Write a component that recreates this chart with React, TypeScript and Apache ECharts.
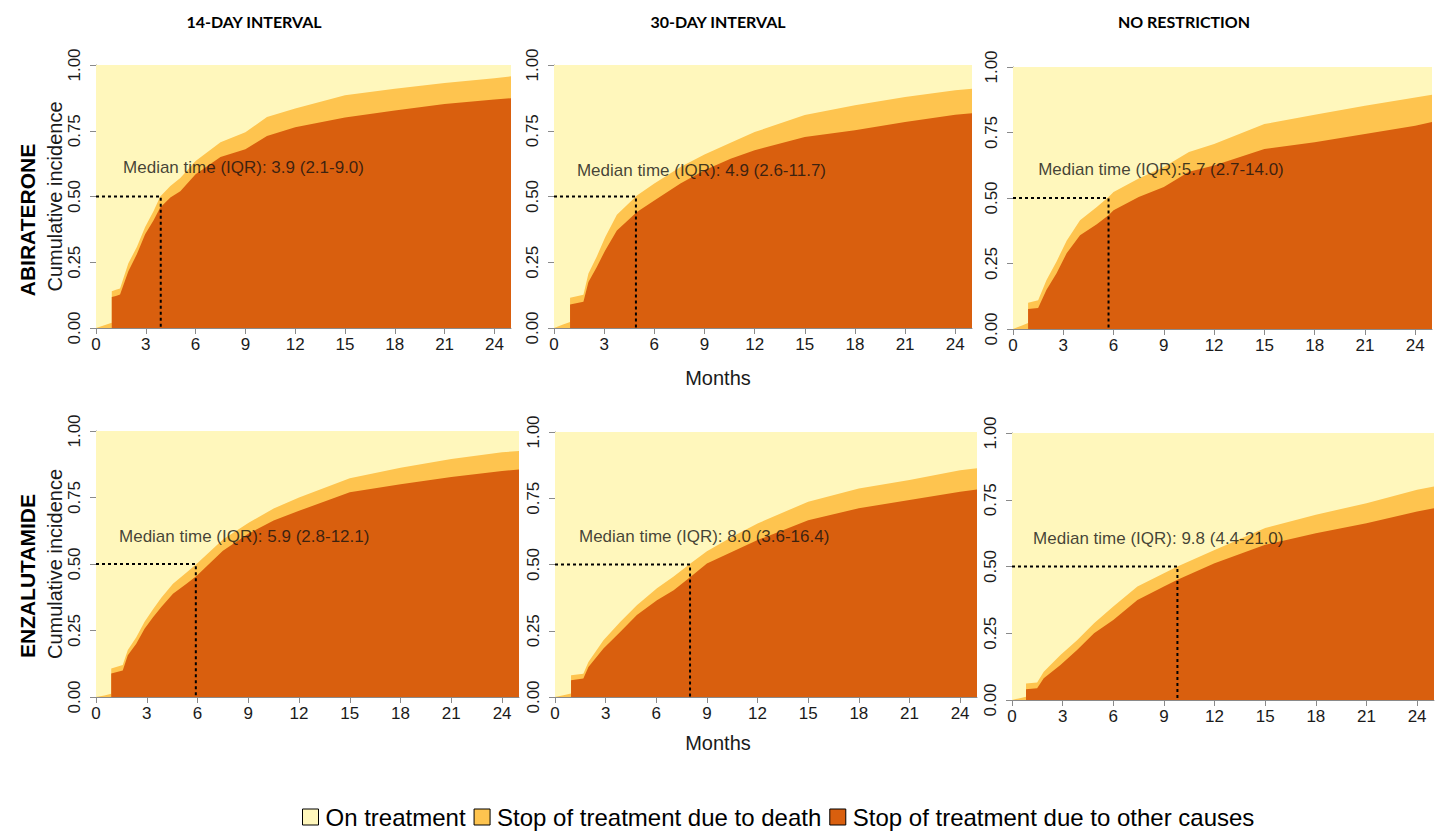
import React, { useEffect, useRef } from "react";
import * as echarts from "echarts";

// ---------- text ----------
const COLUMN_TITLES = ["14-DAY INTERVAL", "30-DAY INTERVAL", "NO RESTRICTION"];
const ROW_TITLES = ["ABIRATERONE", "ENZALUTAMIDE"];
const LEGEND_NAMES = [
  "On treatment",
  "Stop of treatment due to death",
  "Stop of treatment due to other causes",
];
const X_TICKS = [0, 3, 6, 9, 12, 15, 18, 21, 24];
const Y_TICKS = [0, 0.25, 0.5, 0.75, 1];
const MEDIANS = [3.9, 4.9, 5.7, 5.9, 8.0, 9.8];
const MEDIAN_LABELS = [
  "Median time (IQR): 3.9 (2.1-9.0)",
  "Median time (IQR): 4.9 (2.6-11.7)",
  "Median time (IQR):5.7 (2.7-14.0)",
  "Median time (IQR): 5.9 (2.8-12.1)",
  "Median time (IQR): 8.0 (3.6-16.4)",
  "Median time (IQR): 9.8 (4.4-21.0)",
];

// ---------- data (months, cumulative incidence) ----------
// Abiraterone, 14-day interval
const abi14Months = [0, 0.5, 0.95, 0.95, 1.2, 1.45, 1.95, 2.46, 2.96, 3.47, 3.87, 4.48, 5.08, 6, 7.5, 9, 10.3, 12, 15, 18, 21, 24, 25];
const abi14Other = [0, 0, 0, 0.118, 0.122, 0.127, 0.216, 0.28, 0.356, 0.41, 0.458, 0.496, 0.52, 0.585, 0.65, 0.68, 0.73, 0.763, 0.8, 0.827, 0.852, 0.869, 0.874];
const abi14Death = [0, 0.01, 0.02, 0.022, 0.023, 0.023, 0.03, 0.028, 0.028, 0.035, 0.042, 0.044, 0.05, 0.05, 0.056, 0.064, 0.072, 0.072, 0.085, 0.083, 0.08, 0.081, 0.083];
// Abiraterone, 30-day interval
const abi30Months = [0, 0.5, 0.96, 0.96, 1.76, 2.06, 2.56, 3.06, 3.76, 4.96, 6, 7.56, 9, 10.56, 12, 15, 18, 21, 24, 25];
const abi30Other = [0, 0, 0, 0.089, 0.1, 0.175, 0.232, 0.295, 0.371, 0.441, 0.485, 0.549, 0.6, 0.644, 0.676, 0.726, 0.752, 0.783, 0.811, 0.817];
const abi30Death = [0, 0.012, 0.023, 0.026, 0.026, 0.032, 0.04, 0.05, 0.06, 0.063, 0.064, 0.063, 0.06, 0.06, 0.069, 0.084, 0.095, 0.095, 0.093, 0.093];
// Abiraterone, no restriction
const abiNoMonths = [0, 0.5, 0.9, 0.9, 1.5, 2, 2.6, 3.2, 4, 5, 5.7, 6, 7.5, 9, 10.5, 12, 15, 18, 21, 24, 25];
const abiNoOther = [0, 0, 0, 0.076, 0.08, 0.15, 0.213, 0.289, 0.358, 0.4, 0.434, 0.453, 0.504, 0.542, 0.6, 0.624, 0.687, 0.713, 0.744, 0.776, 0.79];
const abiNoDeath = [0, 0.012, 0.023, 0.024, 0.03, 0.037, 0.045, 0.048, 0.057, 0.066, 0.07, 0.07, 0.07, 0.076, 0.076, 0.082, 0.095, 0.105, 0.108, 0.108, 0.104];
// Enzalutamide, 14-day interval
const enz14Months = [0, 0.5, 0.9, 0.9, 1.58, 1.88, 2.38, 2.87, 3.37, 3.86, 4.55, 5.35, 5.94, 7.5, 9, 10.5, 12, 15, 18, 21, 24, 25];
const enz14Other = [0, 0, 0, 0.088, 0.1, 0.157, 0.2, 0.257, 0.3, 0.338, 0.388, 0.426, 0.455, 0.55, 0.614, 0.664, 0.7, 0.77, 0.8, 0.827, 0.85, 0.855];
const enz14Death = [0, 0.006, 0.012, 0.019, 0.02, 0.02, 0.025, 0.026, 0.03, 0.035, 0.038, 0.042, 0.045, 0.042, 0.04, 0.045, 0.05, 0.052, 0.062, 0.068, 0.07, 0.07];
// Enzalutamide, 30-day interval
const enz30Months = [0, 0.5, 0.95, 0.95, 1.68, 1.98, 2.87, 3.86, 4.85, 6.04, 7.03, 8.02, 9, 10.5, 12, 15, 18, 21, 24, 25];
const enz30Other = [0, 0, 0, 0.063, 0.07, 0.113, 0.183, 0.245, 0.309, 0.365, 0.403, 0.453, 0.504, 0.548, 0.592, 0.667, 0.712, 0.743, 0.775, 0.783];
const enz30Death = [0, 0.007, 0.013, 0.019, 0.018, 0.019, 0.031, 0.038, 0.037, 0.045, 0.052, 0.051, 0.046, 0.057, 0.063, 0.07, 0.075, 0.076, 0.081, 0.08];
// Enzalutamide, no restriction
const enzNoMonths = [0, 0.4, 0.83, 0.83, 1.49, 1.88, 2.87, 3.87, 4.86, 6, 7.43, 9, 9.8, 12, 15, 18, 21, 24, 25];
const enzNoOther = [0, 0, 0, 0.04, 0.044, 0.081, 0.131, 0.188, 0.25, 0.3, 0.375, 0.425, 0.45, 0.512, 0.581, 0.625, 0.662, 0.706, 0.718];
const enzNoDeath = [0, 0.006, 0.012, 0.022, 0.022, 0.025, 0.038, 0.037, 0.037, 0.05, 0.05, 0.05, 0.05, 0.05, 0.063, 0.069, 0.075, 0.081, 0.082];

const PANELS = [
  { months: abi14Months, other: abi14Other, death: abi14Death },
  { months: abi30Months, other: abi30Other, death: abi30Death },
  { months: abiNoMonths, other: abiNoOther, death: abiNoDeath },
  { months: enz14Months, other: enz14Other, death: enz14Death },
  { months: enz30Months, other: enz30Other, death: enz30Death },
  { months: enzNoMonths, other: enzNoOther, death: enzNoDeath },
];

// ---------- layout & style ----------
const GRIDS = [
  { left: 96, top: 65, width: 415, height: 263 },
  { left: 554, top: 65, width: 418, height: 263 },
  { left: 1013, top: 67, width: 419, height: 262 },
  { left: 96, top: 431, width: 423, height: 266 },
  { left: 555, top: 432, width: 422, height: 265 },
  { left: 1012, top: 433, width: 422, height: 267 },
];
const LABEL_ANCHORS = [
  [1.63, 0.61],
  [1.37, 0.6],
  [1.5, 0.607],
  [1.36, 0.603],
  [1.42, 0.604],
  [1.25, 0.603],
];
const C_ON = "#FFF7BC";
const C_DEATH = "#FEC44F";
const C_OTHER = "#D95F0E";
const FONT = "'Liberation Sans', Arial, Helvetica, sans-serif";
const TITLE_FONT = "'Liberation Sans Narrow', 'Arial Narrow', Lato, sans-serif";
const AXIS_GRAY = "#8a8a8a";

function buildOption() {
  const grid: any[] = [];
  const xAxis: any[] = [];
  const yAxis: any[] = [];
  const series: any[] = [];

  PANELS.forEach((p, i) => {
    grid.push({ ...GRIDS[i], outerBoundsMode: "none", containLabel: false });
    xAxis.push({
      type: "value",
      gridIndex: i,
      min: 0,
      max: 25,
      interval: 3,
      axisLine: { show: true, lineStyle: { color: AXIS_GRAY, width: 1 } },
      axisTick: { show: true, length: 6, lineStyle: { color: AXIS_GRAY }, customValues: X_TICKS },
      axisLabel: { customValues: X_TICKS, fontSize: 17, color: "#1a1a1a", margin: 8, fontFamily: FONT },
      splitLine: { show: false },
    });
    yAxis.push({
      type: "value",
      gridIndex: i,
      min: 0,
      max: 1,
      interval: 0.25,
      axisLine: { show: true, lineStyle: { color: AXIS_GRAY, width: 1 } },
      axisTick: { show: true, length: 6, lineStyle: { color: AXIS_GRAY }, customValues: Y_TICKS },
      axisLabel: {
        customValues: Y_TICKS,
        rotate: 90,
        fontSize: 17,
        color: "#1a1a1a",
        margin: 13,
        fontFamily: FONT,
        formatter: (v: number) => v.toFixed(2),
      },
      splitLine: { show: false },
      name: i % 3 === 0 ? "Cumulative incidence" : "",
      nameLocation: "middle",
      nameGap: 25,
      nameTextStyle: { fontSize: 20, color: "#1a1a1a", fontFamily: FONT },
    });

    const area = (name: string, color: string, values: number[]) => ({
      type: "line",
      name,
      xAxisIndex: i,
      yAxisIndex: i,
      data: p.months.map((m, j) => [m, values[j]]),
      symbol: "none",
      showSymbol: false,
      lineStyle: { width: 0, color },
      itemStyle: { color },
      areaStyle: { color, opacity: 1, origin: "start" },
      silent: true,
      z: 2,
    });
    // cumulative layers: on-treatment fills up to 1, death sits on top of other causes
    const full = p.months.map(() => 1);
    const total = p.months.map((_, j) => p.other[j] + p.death[j]);
    series.push(area(LEGEND_NAMES[0], C_ON, full));
    series.push(area(LEGEND_NAMES[1], C_DEATH, total));
    series.push(area(LEGEND_NAMES[2], C_OTHER, p.other));

    series.push({
      type: "line",
      xAxisIndex: i,
      yAxisIndex: i,
      data: [
        [0, 0.5],
        [MEDIANS[i], 0.5],
        [MEDIANS[i], 0],
      ],
      symbol: "none",
      lineStyle: { color: "#000", width: 2, type: [3, 3] },
      silent: true,
      z: 5,
    });
    series.push({
      type: "scatter",
      xAxisIndex: i,
      yAxisIndex: i,
      data: [LABEL_ANCHORS[i]],
      symbolSize: 0,
      silent: true,
      label: {
        show: true,
        position: "right",
        distance: 0,
        formatter: MEDIAN_LABELS[i],
        fontSize: 17,
        color: "#111",
        fontFamily: FONT,
      },
      z: 6,
    });
  });

  const graphic: any[] = [];
  const titleX = [254, 718, 1184];
  COLUMN_TITLES.forEach((t, k) => {
    graphic.push({
      type: "text",
      x: titleX[k],
      y: 21,
      style: {
        text: t,
        fill: "#000",
        font: `bold 16px ${TITLE_FONT}`,
        textAlign: "center",
        textVerticalAlign: "middle",
      },
    });
  });
  const rowY = [220, 576];
  ROW_TITLES.forEach((t, k) => {
    graphic.push({
      type: "text",
      x: 27,
      y: rowY[k],
      rotation: Math.PI / 2,
      style: {
        text: t,
        fill: "#000",
        font: `bold 21px ${FONT}`,
        textAlign: "center",
        textVerticalAlign: "middle",
      },
    });
  });
  [378, 743].forEach((y) => {
    graphic.push({
      type: "text",
      x: 718,
      y,
      style: {
        text: "Months",
        fill: "#1a1a1a",
        font: `20px ${FONT}`,
        textAlign: "center",
        textVerticalAlign: "middle",
      },
    });
  });

  return {
    animation: false,
    backgroundColor: "#fff",
    grid,
    xAxis,
    yAxis,
    series,
    graphic,
    legend: {
      data: LEGEND_NAMES,
      left: 302,
      top: 804,
      padding: 0,
      icon: "rect",
      itemWidth: 16,
      itemHeight: 16,
      itemGap: 8,
      selectedMode: false,
      itemStyle: { borderColor: "#000", borderWidth: 1 },
      textStyle: { fontSize: 24, lineHeight: 26, color: "#000", fontFamily: FONT, padding: [0, 0, 0, 2] },
    },
  };
}

export default function App() {
  const ref = useRef<HTMLDivElement>(null);
  useEffect(() => {
    if (!ref.current) return;
    const chart = echarts.init(ref.current, undefined, { renderer: "svg" });
    chart.setOption(buildOption() as any);
    return () => chart.dispose();
  }, []);
  return (
    <div
      ref={ref}
      style={{ position: "fixed", left: 0, top: 0, width: 1439, height: 833, background: "#fff" }}
    />
  );
}
